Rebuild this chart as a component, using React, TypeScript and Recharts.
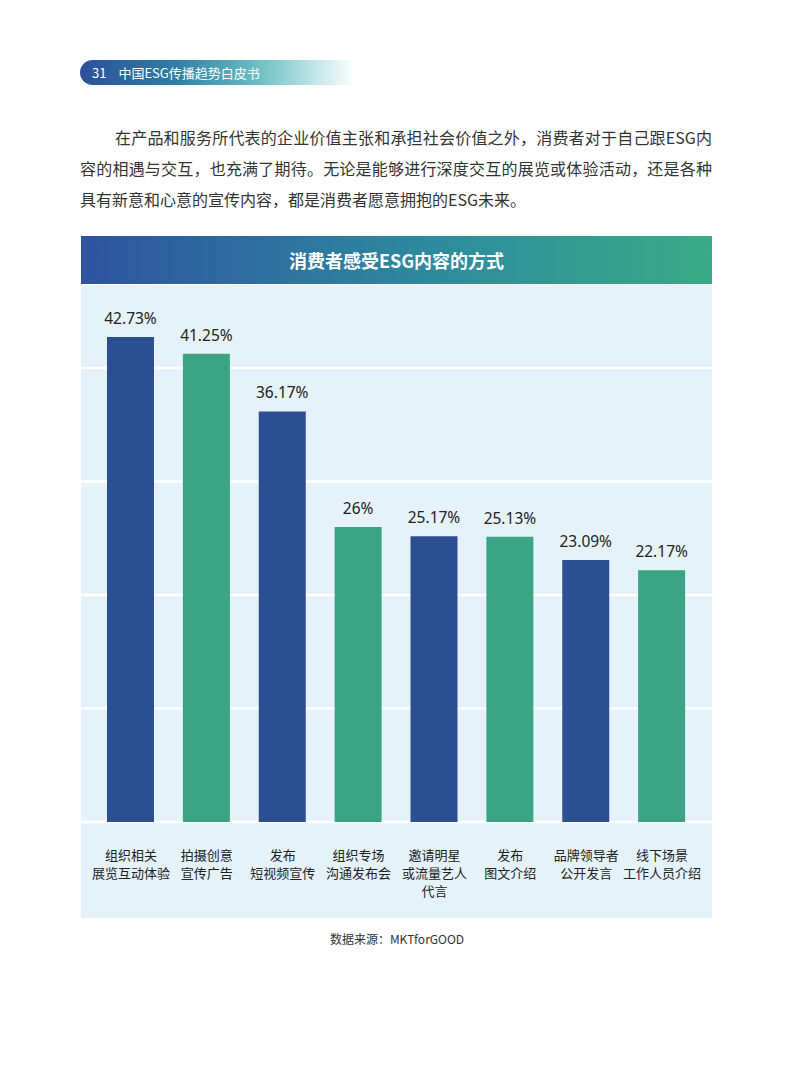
import React from "react";
import { BarChart, Bar, XAxis, YAxis, CartesianGrid, Cell, LabelList } from "recharts";

const categories = [
  ["组织相关", "展览互动体验"],
  ["拍摄创意", "宣传广告"],
  ["发布", "短视频宣传"],
  ["组织专场", "沟通发布会"],
  ["邀请明星", "或流量艺人", "代言"],
  ["发布", "图文介绍"],
  ["品牌领导者", "公开发言"],
  ["线下场景", "工作人员介绍"],
];
const values = [42.73, 41.25, 36.17, 26, 25.17, 25.13, 23.09, 22.17];
const gridTicks = [0, 10, 20, 30, 40];

const paragraphLines = [
  "在产品和服务所代表的企业价值主张和承担社会价值之外，消费者对于自己跟ESG内",
  "容的相遇与交互，也充满了期待。无论是能够进行深度交互的展览或体验活动，还是各种",
  "具有新意和心意的宣传内容，都是消费者愿意拥抱的ESG未来。",
];

const BLUE = "#2b4f91";
const GREEN = "#3aa483";
const FONT = "'Noto Sans CJK SC', 'Noto Sans', sans-serif";

const data = categories.map((c, i) => ({ name: c.join("\n"), value: values[i] }));

const CategoryTick = ({ x, y, payload }: any) => {
  const lines = String(payload.value).split("\n");
  return (
    <text x={x} y={y + 30} textAnchor="middle" fontSize={13} fill="#222" fontFamily={FONT}>
      {lines.map((l, i) => (
        <tspan key={i} x={x} dy={i === 0 ? 0 : 18}>
          {l}
        </tspan>
      ))}
    </text>
  );
};

export default function App() {
  return (
    <div
      style={{
        position: "absolute",
        left: 0,
        top: 0,
        width: 794,
        height: 1078,
        background: "#fff",
        fontFamily: FONT,
      }}
    >
      {/* page header */}
      <div
        style={{
          position: "absolute",
          left: 80,
          top: 60,
          width: 275,
          height: 25,
          borderRadius: "13px 0 0 13px",
          background: "linear-gradient(90deg, #2c4f9a 0%, #2f7fa5 35%, #6cc0c4 65%, #ffffff 100%)",
          color: "#fff",
          fontSize: 13,
          lineHeight: "25px",
        }}
      >
        <span style={{ marginLeft: 12 }}>31</span>
        <span style={{ marginLeft: 12 }}>中国ESG传播趋势白皮书</span>
      </div>

      {/* intro paragraph */}
      {paragraphLines.map((line, i) => (
        <div
          key={i}
          style={{
            position: "absolute",
            left: i === 0 ? 115 : 80,
            top: 125 + i * 31,
            width: i === 0 ? 597 : 632,
            fontSize: 16,
            lineHeight: "24px",
            color: "#333",
            textAlign: "justify",
            textAlignLast: i < 2 ? "justify" : "left",
            whiteSpace: "nowrap",
          }}
        >
          {line}
        </div>
      ))}

      {/* chart panel */}
      <div
        style={{
          position: "absolute",
          left: 81,
          top: 236,
          width: 631,
          height: 48,
          background: "linear-gradient(90deg, #2f53a0 0%, #2e8a9e 55%, #3aab85 100%)",
          color: "#fff",
          fontWeight: 700,
          fontSize: 18,
          lineHeight: "48px",
          textAlign: "center",
        }}
      >
        消费者感受ESG内容的方式
      </div>
      <div style={{ position: "absolute", left: 81, top: 284, width: 631, height: 634, background: "#e5f2fa" }}>
        <BarChart width={631} height={634} data={data} margin={{ top: 0, right: 0, left: 0, bottom: 0 }}>
          <CartesianGrid vertical={false} stroke="#ffffff" strokeWidth={2.5} />
          <XAxis
            dataKey="name"
            axisLine={false}
            tickLine={false}
            height={96}
            interval={0}
            padding={{ left: 12, right: 12 }}
            tick={<CategoryTick />}
          />
          <YAxis hide domain={[0, 47.4]} ticks={gridTicks} />
          <Bar dataKey="value" barSize={47} isAnimationActive={false}>
            {data.map((_, i) => (
              <Cell key={i} fill={i % 2 === 0 ? BLUE : GREEN} />
            ))}
            <LabelList
              dataKey="value"
              position="top"
              offset={13}
              formatter={(v: any) => `${v}%`}
              fill="#222"
              fontSize={15.5}
              fontFamily="'Noto Sans', sans-serif"
            />
          </Bar>
        </BarChart>
      </div>

      {/* source */}
      <div
        style={{
          position: "absolute",
          left: 0,
          top: 930,
          width: 794,
          textAlign: "center",
          fontSize: 12,
          color: "#333",
        }}
      >
        数据来源：MKTforGOOD
      </div>
    </div>
  );
}
